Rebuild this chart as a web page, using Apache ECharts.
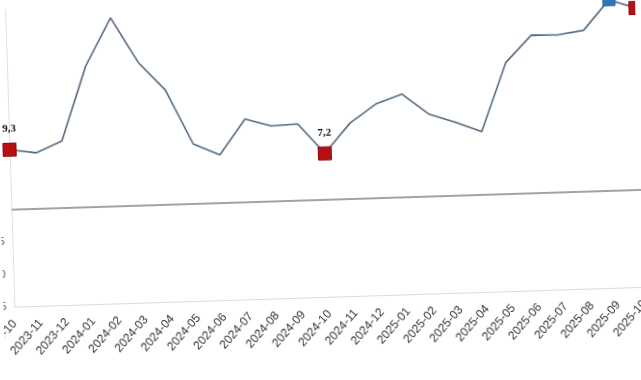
<!DOCTYPE html>
<html>
<head>
<meta charset="utf-8">
<script src="https://cdn.jsdelivr.net/npm/echarts@6/dist/echarts.min.js"></script>
<style>
html,body{margin:0;padding:0;background:#fff;overflow:hidden;}
#wrap{width:641px;height:380px;transform:rotate(-1.8deg);transform-origin:320px 190px;}
#chart{width:641px;height:380px;}
</style>
</head>
<body>
<div id="wrap"><div id="chart"></div></div>
<script>
const categories = ['2023-10','2023-11','2023-12','2024-01','2024-02','2024-03','2024-04','2024-05','2024-06','2024-07','2024-08','2024-09','2024-10','2024-11','2024-12','2025-01','2025-02','2025-03','2025-04','2025-05','2025-06','2025-07','2025-08','2025-09','2025-10'];
const values = [9.3, 8.7, 10.4, 21.9, 29.2, 22.2, 17.8, 9.3, 7.5, 12.9, 11.7, 11.9, 7.2, 11.8, 14.6, 16.0, 12.8, 11.4, 9.8, 20.4, 24.5, 24.4, 25.0, 29.6, 28.2];
const redPoints = ['2023-10','2024-10','2025-10'];
const bluePoints = ['2025-09'];
const yTicks = [-15, -10, -5];

const chart = echarts.init(document.getElementById('chart'), null, {renderer:'canvas'});
const seriesData = values.map((v, i) => {
  const c = categories[i];
  if (redPoints.includes(c)) {
    return {value: v, symbol: 'rect', symbolSize: 13,
      itemStyle: {color: '#b80f12', borderColor: '#8a0a0c', borderWidth: 1},
      label: {show: true, position: 'top', distance: 8,
        formatter: p => String(p.value).replace('.', ','),
        fontFamily: 'Liberation Serif', fontWeight: 'bold', fontSize: 11, color: '#111'}};
  }
  if (bluePoints.includes(c)) {
    return {value: v, symbol: 'rect', symbolSize: 12,
      itemStyle: {color: '#2f76b8', borderColor: '#1f5a90', borderWidth: 1}};
  }
  return {value: v, symbol: 'none'};
});

chart.setOption({
  animation: false,
  backgroundColor: '#fff',
  grid: {left: 11, right: 0, top: -26, bottom: 83, containLabel: false, outerBoundsMode: 'none'},
  xAxis: {
    type: 'category', data: categories, boundaryGap: false,
    axisLine: {onZero: false, lineStyle: {color: '#dcdcdc', width: 1}},
    axisTick: {show: false},
    axisLabel: {rotate: 47, margin: 15, fontSize: 12, color: '#333', fontFamily: 'Liberation Sans', interval: 0, hideOverlap: false}
  },
  yAxis: {
    type: 'value', min: -15, max: 35, interval: 5,
    axisLine: {show: true, lineStyle: {color: '#e0e0e0', width: 1}},
    axisTick: {show: false},
    splitLine: {show: false},
    axisLabel: {margin: 8, fontSize: 11, color: '#555', fontFamily: 'Liberation Sans',
      formatter: v => yTicks.includes(v) ? String(v) : ''}
  },
  series: [{
    type: 'line', data: seriesData,
    lineStyle: {color: '#566a80', width: 1.6},
    markLine: {silent: true, symbol: 'none', label: {show: false},
      lineStyle: {color: '#a3a3a3', width: 1.8, type: 'solid'},
      data: [{yAxis: 0}]}
  }]
});
</script>
</body>
</html>
